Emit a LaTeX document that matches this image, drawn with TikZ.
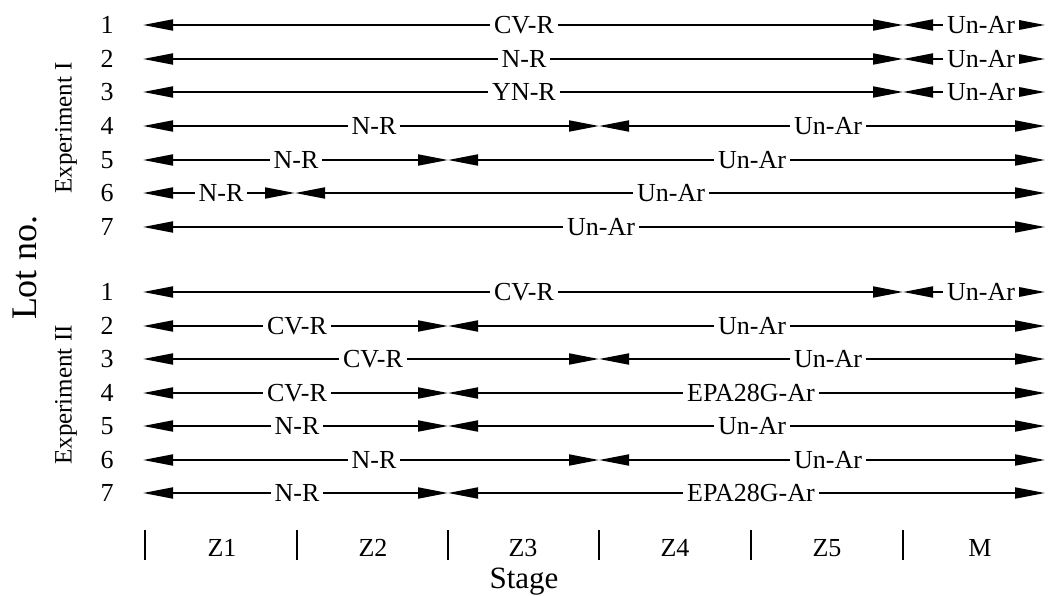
\documentclass[tikz,border=0pt]{standalone}
\usepackage{fontspec}
\setmainfont{Liberation Serif}
\usetikzlibrary{arrows.meta}
\begin{document}
\begin{tikzpicture}[x=1pt,y=-1pt,
  tipshape/.tip={Triangle[length=30pt,width=11pt]},
  seg/.style={line width=1.8pt,tipshape-tipshape},
  lbl/.style={fill=white,inner xsep=4pt,inner ysep=1pt,font=\fontsize{26}{26}\selectfont},
  num/.style={inner sep=0pt,font=\fontsize{26}{26}\selectfont},
  tick/.style={line width=1.6pt},
  zlbl/.style={inner sep=0pt,font=\fontsize{26}{26}\selectfont},
  side/.style={rotate=90,inner sep=0pt,font=\fontsize{25}{25}\selectfont},
  axis/.style={inner sep=0pt,font=\fontsize{31}{31}\selectfont}]
\useasboundingbox (0,0) rectangle (1048,596);
% rows with two segments
\foreach \n/\k/\y/\s/\a/\ax/\b/\bx in {
  I1/1/25/903/CV-R/524/Un-Ar/981,
  I2/2/59/903/N-R/524/Un-Ar/981,
  I3/3/92/903/YN-R/524/Un-Ar/981,
  I4/4/126/599/N-R/374/Un-Ar/828,
  I5/5/160/448/N-R/296/Un-Ar/752,
  I6/6/193/295/N-R/221/Un-Ar/671,
  II1/1/292/903/CV-R/524/Un-Ar/981,
  II2/2/326/448/CV-R/297/Un-Ar/752,
  II3/3/359/599/CV-R/373/Un-Ar/828,
  II4/4/393/448/CV-R/297/EPA28G-Ar/751,
  II5/5/426/448/N-R/297/Un-Ar/752,
  II6/6/460/599/N-R/374/Un-Ar/828,
  II7/7/493/448/N-R/297/EPA28G-Ar/751}{
  \coordinate (s\n) at (143,\y);
  \coordinate (m\n) at (\s,\y);
  \coordinate (e\n) at (1045,\y);
  \draw[seg] (s\n) -- (m\n);
  \draw[seg] (m\n) -- (e\n);
  \node[lbl] (a\n) at (\ax,\y) {\a};
  \node[lbl] (b\n) at (\bx,\y) {\b};
  \node[num] (k\n) at (107,\y) {\k};
}
% row 7 of experiment I
\coordinate (sI7) at (143,227);
\coordinate (eI7) at (1045,227);
\draw[seg] (sI7) -- (eI7);
\node[lbl] (aI7) at (601,227) {Un-Ar};
\node[num] (kI7) at (107,227) {7};
% side labels
\node[side] (expI) at (66,128) {Experiment I};
\node[side] (expII) at (66,395) {Experiment II};
\node[rotate=90,inner sep=0pt,font=\fontsize{36}{36}\selectfont] (lot) at (25,268) {Lot no.};
% stage axis
\foreach \i/\x in {1/145,2/297,3/448,4/599,5/751,6/903}{
  \coordinate (ta\i) at (\x,530);
  \coordinate (tb\i) at (\x,560);
  \draw[tick] (ta\i) -- (tb\i);
}
\foreach \t/\x in {Z1/222,Z2/373,Z3/523,Z4/675,Z5/827,M/980}{
  \node[zlbl] (z\t) at (\x,548) {\t};
}
\node[axis] (stage) at (524,582) {Stage};
\end{tikzpicture}
\end{document}
